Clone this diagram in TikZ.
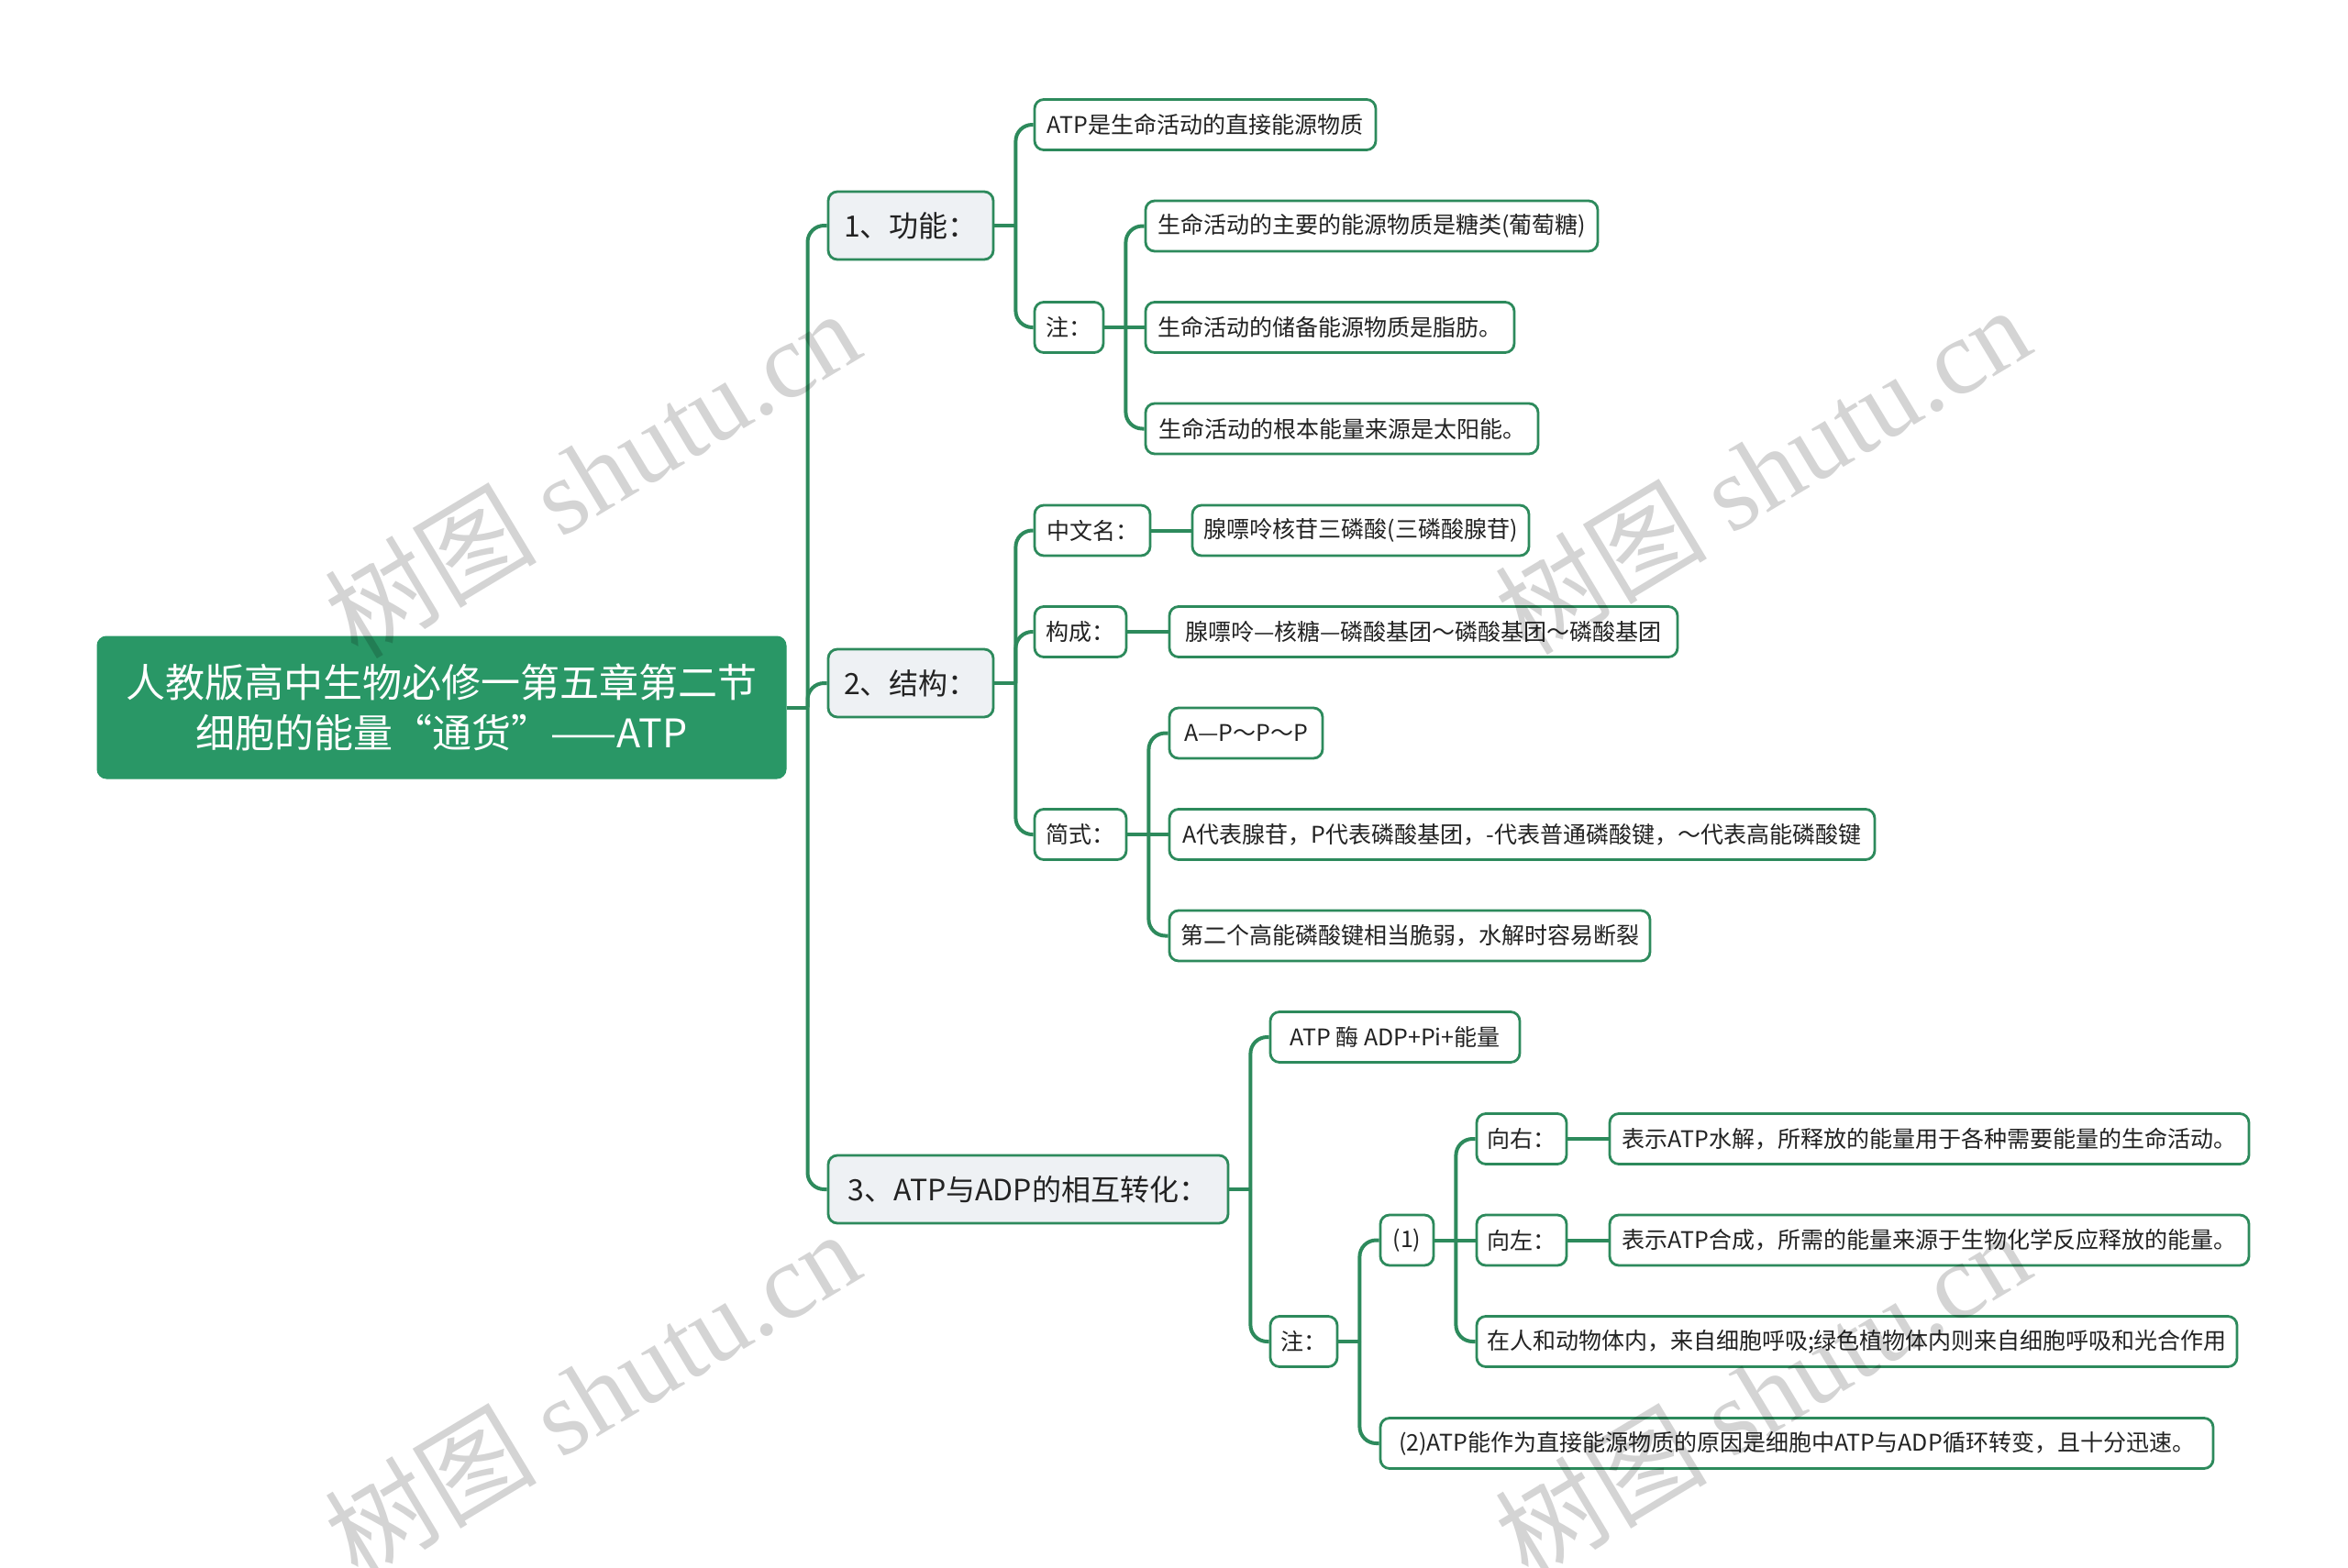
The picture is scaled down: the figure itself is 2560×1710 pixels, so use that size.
\documentclass[tikz,border=0pt]{standalone}
\usepackage{fontspec}
\setmainfont{Noto Sans CJK SC}
\newfontfamily\wmlatin{Liberation Serif}
\definecolor{lg}{HTML}{2D8A5C}
\definecolor{rootg}{HTML}{299766}
\definecolor{lonefill}{HTML}{EEF1F4}
\definecolor{txt}{HTML}{222222}
\newcommand\conn[2]{\draw[conn] (#1.east) -- ++(23,0); \draw[conn] ([xshift=23pt]#1.east) |- (#2.west);}
\newcommand\connS[2]{\draw[conn] (#1.east) -- (#2.west);}
\begin{document}
\begin{tikzpicture}[x=1pt,y=-1pt,
 conn/.style={draw=lg, line width=4pt, rounded corners=18pt},
 box/.style={draw=lg, line width=2.8pt, rounded corners=10pt, fill=white, text=txt, minimum height=55pt, inner xsep=10pt, inner ysep=0pt, font=\fontsize{25}{30}\selectfont},
 lone/.style={box, fill=lonefill, minimum height=74pt, font=\fontsize{32}{38}\selectfont},
 rootbox/.style={fill=rootg, draw=rootg, line width=1pt, rounded corners=10pt, text=white, align=center, minimum width=751pt, minimum height=155pt, font=\fontsize{43}{55}\selectfont},
 wm/.style={text=black, opacity=0.17, rotate=31, font=\fontsize{116}{116}\selectfont}
]
\useasboundingbox[fill=white] (0,0) rectangle (2560,1710);

\node[rootbox] (root) at (481.5,771.5) {人教版高中生物必修一第五章第二节\\细胞的能量“通货”——ATP};

\node[lone, minimum width=180pt] (n1) at (993,246) {1、功能：};
\node[lone, minimum width=180pt] (n2) at (993,745) {2、结构：};
\node[lone, minimum width=436pt] (n3) at (1121,1297) {3、ATP与ADP的相互转化：};

\node[box, minimum width=372pt] (a1) at (1314,136) {ATP是生命活动的直接能源物质};
\node[box, minimum width=75pt] (a2) at (1165.5,357) {注：};
\node[box, minimum width=493pt] (a21) at (1495.5,246.5) {生命活动的主要的能源物质是糖类(葡萄糖)};
\node[box, minimum width=402pt] (a22) at (1450,357) {生命活动的储备能源物质是脂肪。};
\node[box, minimum width=428pt] (a23) at (1463,467.5) {生命活动的根本能量来源是太阳能。};

\node[box, minimum width=126pt] (b1) at (1191,578.5) {中文名：};
\node[box, minimum width=367pt] (b11) at (1483.5,578.5) {腺嘌呤核苷三磷酸(三磷酸腺苷)};
\node[box, minimum width=100pt] (b2) at (1178,689) {构成：};
\node[box, minimum width=554pt] (b21) at (1552,689) {腺嘌呤—核糖—磷酸基团～磷酸基团～磷酸基团};
\node[box, minimum width=100pt] (b3) at (1178,910) {简式：};
\node[box, minimum width=167pt] (b31) at (1358.5,799.5) {A—P～P～P};
\node[box, minimum width=769pt] (b32) at (1659.5,910) {A代表腺苷，P代表磷酸基团，-代表普通磷酸键，～代表高能磷酸键};
\node[box, minimum width=524pt] (b33) at (1537,1020.5) {第二个高能磷酸键相当脆弱，水解时容易断裂};

\node[box, minimum width=272pt] (c1) at (1521,1131) {ATP 酶 ADP+Pi+能量};
\node[box, minimum width=73pt] (c2) at (1421.5,1463) {注：};
\node[box, minimum width=58pt] (c21) at (1534,1352.5) {(1)};
\node[box, minimum width=908pt] (c22) at (1959,1574) {(2)ATP能作为直接能源物质的原因是细胞中ATP与ADP循环转变，且十分迅速。};
\node[box, minimum width=98pt] (c211) at (1659,1242) {向右：};
\node[box, minimum width=98pt] (c212) at (1659,1352.5) {向左：};
\node[box, minimum width=829pt] (c213) at (2024.5,1463) {在人和动物体内，来自细胞呼吸;绿色植物体内则来自细胞呼吸和光合作用};
\node[box, minimum width=697pt] (c2111) at (2103.5,1242) {表示ATP水解，所释放的能量用于各种需要能量的生命活动。};
\node[box, minimum width=697pt] (c2121) at (2103.5,1352.5) {表示ATP合成，所需的能量来源于生物化学反应释放的能量。};

\conn{root}{n1}\conn{root}{n2}\conn{root}{n3}
\conn{n1}{a1}\conn{n1}{a2}
\conn{a2}{a21}\connS{a2}{a22}\conn{a2}{a23}
\conn{n2}{b1}\conn{n2}{b2}\conn{n2}{b3}
\connS{b1}{b11}\connS{b2}{b21}
\conn{b3}{b31}\connS{b3}{b32}\conn{b3}{b33}
\conn{n3}{c1}\conn{n3}{c2}
\conn{c2}{c21}\conn{c2}{c22}
\conn{c21}{c211}\connS{c21}{c212}\conn{c21}{c213}
\connS{c211}{c2111}\connS{c212}{c2121}

\node[wm] (w1) at (645,516) {树图 {\wmlatin shutu.cn}};
\node[wm] (w2) at (1921,512) {树图 {\wmlatin shutu.cn}};
\node[wm] (w3) at (645,1520) {树图 {\wmlatin shutu.cn}};
\node[wm] (w4) at (1921,1520) {树图 {\wmlatin shutu.cn}};
\end{tikzpicture}
\end{document}
